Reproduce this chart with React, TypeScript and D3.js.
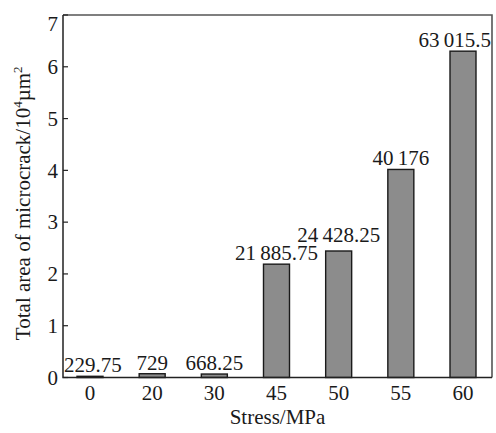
import { useEffect, useRef } from 'react';
import * as d3 from 'd3';

// stress levels (MPa) and total microcrack area (µm²)
const stressLabels = ['0', '20', '30', '45', '50', '55', '60'];
const areaValues = [229.75, 729, 668.25, 21885.75, 24428.25, 40176, 63015.5];
const valueLabels = ['229.75', '729', '668.25', '21\u2009885.75', '24\u2009428.25', '40\u2009176', '63\u2009015.5'];
const yTicks = [0, 1, 2, 3, 4, 5, 6, 7];

const W = 496;
const H = 433;
const FONT = '"Liberation Serif", "Times New Roman", serif';
const FS = 21;

const App = () => {
    const svgRef = useRef<SVGSVGElement | null>(null);

    useEffect(() => {
        const svg = d3.select(svgRef.current);
        svg.selectAll('*').remove();

        const margin = { top: 15, right: 4, bottom: 55.5, left: 63 };
        const x0 = margin.left;
        const x1 = W - margin.right;
        const y0 = H - margin.bottom;
        const y1 = margin.top;

        const xScale = d3.scalePoint<string>()
            .domain(stressLabels)
            .range([x0 + 27, x1 - 29]);

        const yScale = d3.scaleLinear()
            .domain([0, 7])
            .range([y0, y1]);

        const barW = 26;

        // bars (values in 10^4 µm²)
        svg.append('g')
            .selectAll('rect')
            .data(areaValues)
            .enter()
            .append('rect')
            .attr('x', (_, i) => xScale(stressLabels[i])! - barW / 2)
            .attr('y', d => yScale(d / 1e4))
            .attr('width', barW)
            .attr('height', d => y0 - yScale(d / 1e4))
            .attr('fill', '#8c8c8c')
            .attr('stroke', '#1a1a1a')
            .attr('stroke-width', 1.4);

        // frame
        svg.append('path')
            .attr('d', `M${x0},${y1}H${x1}V${y0}`)
            .attr('fill', 'none')
            .attr('stroke', '#555')
            .attr('stroke-width', 1.6);
        svg.append('path')
            .attr('d', `M${x0},${y1}V${y0}H${x1}`)
            .attr('fill', 'none')
            .attr('stroke', '#222')
            .attr('stroke-width', 1.5);

        const addText = (sel: any) => sel
            .style('font-family', FONT)
            .style('font-size', `${FS}px`)
            .attr('fill', '#1a1a1a');

        // y ticks + labels
        const yg = svg.append('g');
        yTicks.forEach(t => {
            yg.append('line')
                .attr('x1', x0).attr('x2', x0 + 5)
                .attr('y1', yScale(t)).attr('y2', yScale(t))
                .attr('stroke', '#222').attr('stroke-width', 1.2);
            const lbl = addText(yg.append('text'))
                .attr('x', x0 - 5)
                .attr('y', yScale(t))
                .attr('dy', '0.35em')
                .attr('text-anchor', 'end')
                .text(String(t));
            // keep label inside the plot's top edge
            const bb = (lbl.node() as SVGTextElement).getBBox();
            if (bb.y + 3 < y1) lbl.attr('y', yScale(t) + (y1 - bb.y - 3));
        });

        // x labels
        stressLabels.forEach(s => {
            addText(svg.append('text'))
                .attr('x', xScale(s)!)
                .attr('y', y0 + 22)
                .attr('text-anchor', 'middle')
                .text(s);
        });

        // value labels, clamped inside frame and lifted when they collide
        let prev: DOMRect | null = null;
        let prevY = 0;
        areaValues.forEach((v, i) => {
            const cx = xScale(stressLabels[i])!;
            let y = yScale(v / 1e4) - 4;
            const t = addText(svg.append('text'))
                .attr('x', cx)
                .attr('y', y)
                .attr('text-anchor', 'middle')
                .text(valueLabels[i]);
            let bb = (t.node() as SVGTextElement).getBBox();
            if (bb.x < x0 + 1) t.attr('x', cx + (x0 + 1 - bb.x));
            else if (bb.x + bb.width > x1 - 1) t.attr('x', cx - (bb.x + bb.width - x1 + 1));
            bb = (t.node() as SVGTextElement).getBBox();
            if (prev && bb.x < prev.x + prev.width && y > prevY - 18.5) {
                y = prevY - 18.5;
                t.attr('y', y);
            }
            prev = (t.node() as SVGTextElement).getBBox();
            prevY = y;
        });

        // axis titles
        addText(svg.append('text'))
            .attr('x', (x0 + x1) / 2)
            .attr('y', H - 9)
            .attr('text-anchor', 'middle')
            .text('Stress/MPa');

        const yt = addText(svg.append('text'))
            .attr('transform', `translate(30,${(y0 + y1) / 2 + 7}) rotate(-90)`)
            .attr('text-anchor', 'middle');
        yt.append('tspan').text('Total area of microcrack/10');
        yt.append('tspan').attr('dy', -8).style('font-size', '13px').text('4');
        yt.append('tspan').attr('dy', 8).text('\u00b5m');
        yt.append('tspan').attr('dy', -8).style('font-size', '13px').text('2');
    }, []);

    return (
        <svg
            ref={svgRef}
            width={W}
            height={H}
            style={{ position: 'absolute', left: 0, top: 0, background: '#fff' }}
        />
    );
};

export default App;
